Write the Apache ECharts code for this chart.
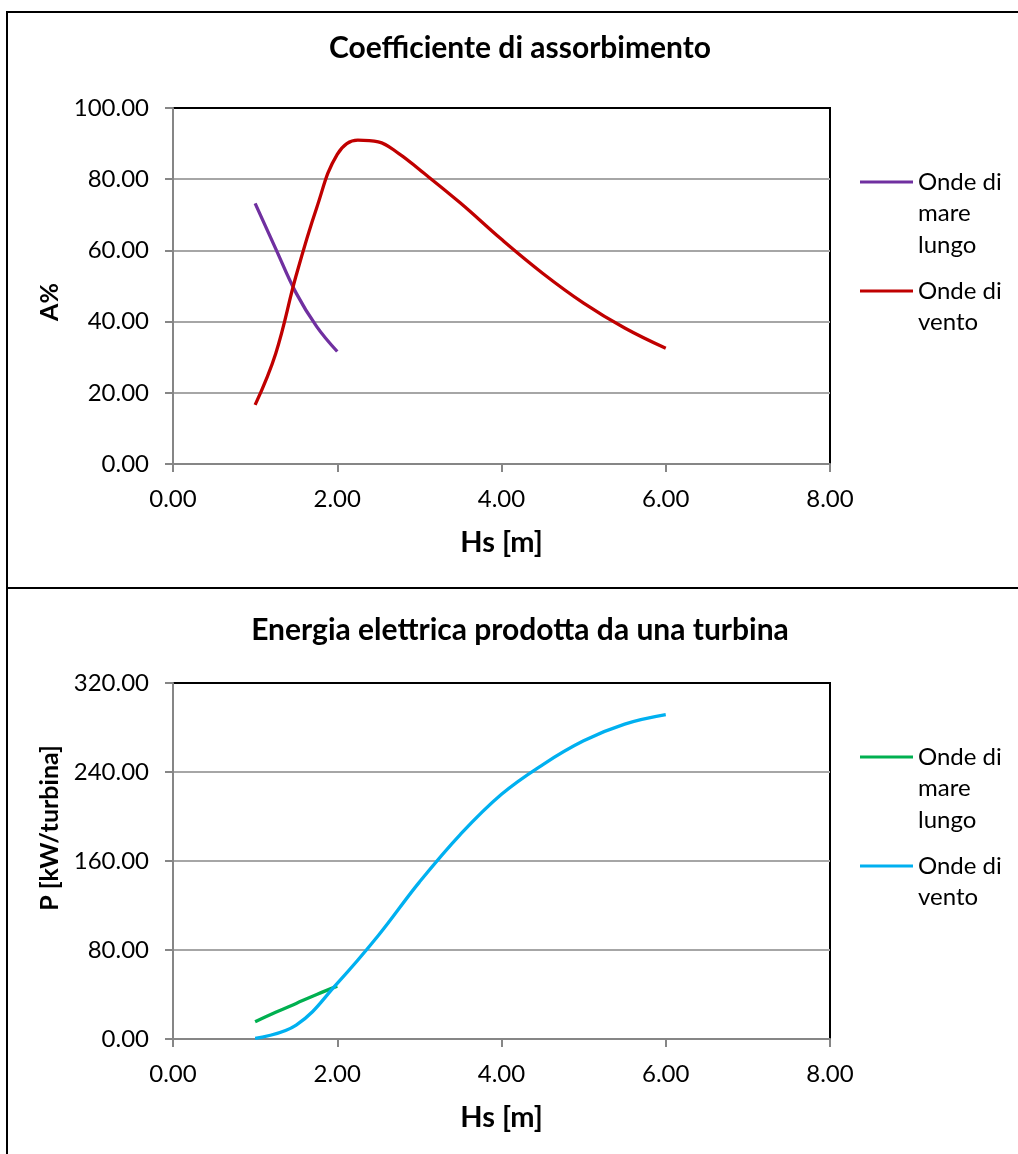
<!DOCTYPE html>
<html>
<head>
<meta charset="utf-8">
<script src="https://cdn.jsdelivr.net/npm/echarts@6/dist/echarts.min.js"></script>
<style>
html,body{margin:0;padding:0;background:#fff;}
#chart{width:1018px;height:1154px;}
</style>
</head>
<body>
<div id="chart"></div>
<script>
// ---- Data ----
const titleTop = 'Coefficiente di assorbimento';
const titleBottom = 'Energia elettrica prodotta da una turbina';
const xAxisName = 'Hs [m]';
const yNameTop = 'A%';
const yNameBottom = 'P [kW/turbina]';
const seriesNames = ['Onde di mare lungo', 'Onde di vento'];

// Top chart: absorption coefficient A% vs Hs
const hsLong = [1.0, 1.25, 1.5, 1.75, 2.0];
const aLong = [73.2, 60.5, 48.0, 38.6, 31.6];
const hsWindA = [1.0, 1.25, 1.5, 1.75, 2.0, 2.25, 2.5, 2.75, 3.0, 3.5, 4.0, 4.5, 5.0, 5.5, 6.0];
const aWind = [16.6, 31.0, 53.0, 72.0, 87.0, 91.0, 90.5, 87.2, 82.7, 73.3, 63.1, 53.6, 45.2, 38.2, 32.5];

// Bottom chart: electric power per turbine vs Hs
const pLong = [15.5, 24.0, 32.0, 40.0, 47.5];
const hsWindP = [1.0, 1.5, 2.0, 2.5, 3.0, 3.5, 4.0, 4.5, 5.0, 5.5, 6.0];
const pWind = [0.5, 12.5, 50.0, 93.0, 141.0, 184.0, 220.0, 246.5, 268.0, 283.0, 291.5];

// Axis scales
const xMin = 0, xMax = 8, xStep = 2;
const yTopMin = 0, yTopMax = 100, yTopStep = 20;
const yBotMin = 0, yBotMax = 320, yBotStep = 80;

const colors = { long1: '#7030A0', wind1: '#C00000', long2: '#00B050', wind2: '#00B0F0' };

function pairs(xs, ys) { return xs.map((x, i) => [x, ys[i]]); }

const FONT = 'Lato, "Open Sans", sans-serif';
const L = 31.5;

function xAxisCfg(gi) {
  return {
    gridIndex: gi, type: 'value', min: xMin, max: xMax, interval: xStep,
    name: xAxisName, nameLocation: 'middle', nameGap: 64,
    nameTextStyle: { fontFamily: FONT, fontWeight: 'bold', fontSize: 29, color: '#000' },
    axisLine: { show: true, onZero: false, lineStyle: { color: '#868686', width: 2 } },
    axisTick: { show: true, inside: false, length: 8, lineStyle: { color: '#868686', width: 2 } },
    axisLabel: { margin: 23, fontFamily: FONT, fontSize: 24, color: '#000', formatter: v => v.toFixed(2) },
    splitLine: { show: false }
  };
}
function yAxisCfg(gi, min, max, step, name, pad) {
  return {
    gridIndex: gi, type: 'value', min: min, max: max, interval: step,
    name: name, nameLocation: 'middle', nameGap: 105, nameRotate: 90,
    nameTextStyle: { fontFamily: FONT, fontWeight: 'bold', fontSize: 25, color: '#000', padding: pad },
    axisLine: { show: true, lineStyle: { color: '#868686', width: 2 } },
    axisTick: { show: true, inside: false, length: 8, lineStyle: { color: '#868686', width: 2 } },
    axisLabel: { margin: 24, fontFamily: FONT, fontSize: 24, color: '#000', formatter: v => v.toFixed(2) },
    splitLine: { show: true, showMinLine: false, showMaxLine: false, lineStyle: { color: '#a6a6a6', width: 2 } }
  };
}
// One legend per series; blank leading lines put the first text line level with the icon.
function legendCfg(name, lines, iconY) {
  const n = lines.length;
  const padded = new Array(n - 1).fill('').concat(lines);
  return {
    left: 860, top: iconY - (2 * n - 1) * L / 2, padding: 0,
    icon: 'rect', itemWidth: 53, itemHeight: 3.2,
    selectedMode: false,
    data: [name],
    formatter: () => padded.join('\n'),
    textStyle: { fontFamily: FONT, fontSize: 24, color: '#000', lineHeight: L }
  };
}
function lineSeries(name, xi, data, color) {
  return {
    name: name, type: 'line', xAxisIndex: xi, yAxisIndex: xi,
    data: data, smooth: 0.4, symbol: 'none',
    lineStyle: { color: color, width: 3.3 }, itemStyle: { color: color }
  };
}

const chart = echarts.init(document.getElementById('chart'), null, { renderer: 'canvas' });
chart.setOption({
  backgroundColor: '#fff',
  animation: false,
  title: [
    { text: titleTop, left: 520, top: 48, padding: 0, textAlign: 'center', textVerticalAlign: 'middle',
      textStyle: { fontFamily: FONT, fontWeight: 'bold', fontSize: 30, color: '#000' } },
    { text: titleBottom, left: 520, top: 630, padding: 0, textAlign: 'center', textVerticalAlign: 'middle',
      textStyle: { fontFamily: FONT, fontWeight: 'bold', fontSize: 30, color: '#000' } }
  ],
  grid: [
    { left: 173, top: 108, width: 657, height: 356, show: true, borderColor: '#000', borderWidth: 2, backgroundColor: 'transparent' },
    { left: 173, top: 683, width: 657, height: 356, show: true, borderColor: '#000', borderWidth: 2, backgroundColor: 'transparent' }
  ],
  xAxis: [xAxisCfg(0), xAxisCfg(1)],
  yAxis: [
    yAxisCfg(0, yTopMin, yTopMax, yTopStep, yNameTop, [0, 32, 0, 0]),
    yAxisCfg(1, yBotMin, yBotMax, yBotStep, yNameBottom, [0, 0, 0, 66])
  ],
  legend: [
    legendCfg(seriesNames[0], ['Onde di', 'mare', 'lungo'], 182),
    legendCfg(seriesNames[1], ['Onde di', 'vento'], 291),
    legendCfg(seriesNames[0] + ' ', ['Onde di', 'mare', 'lungo'], 757),
    legendCfg(seriesNames[1] + ' ', ['Onde di', 'vento'], 866)
  ],
  graphic: [
    { type: 'rect', silent: true, z: 100, shape: { x: 7, y: 12, width: 1040, height: 576 },
      style: { fill: 'none', stroke: '#000', lineWidth: 2 } },
    { type: 'rect', silent: true, z: 100, shape: { x: 7, y: 588, width: 1040, height: 600 },
      style: { fill: 'none', stroke: '#000', lineWidth: 2 } }
  ],
  series: [
    lineSeries(seriesNames[0], 0, pairs(hsLong, aLong), colors.long1),
    lineSeries(seriesNames[1], 0, pairs(hsWindA, aWind), colors.wind1),
    lineSeries(seriesNames[0] + ' ', 1, pairs(hsLong, pLong), colors.long2),
    lineSeries(seriesNames[1] + ' ', 1, pairs(hsWindP, pWind), colors.wind2)
  ]
});
</script>
</body>
</html>
